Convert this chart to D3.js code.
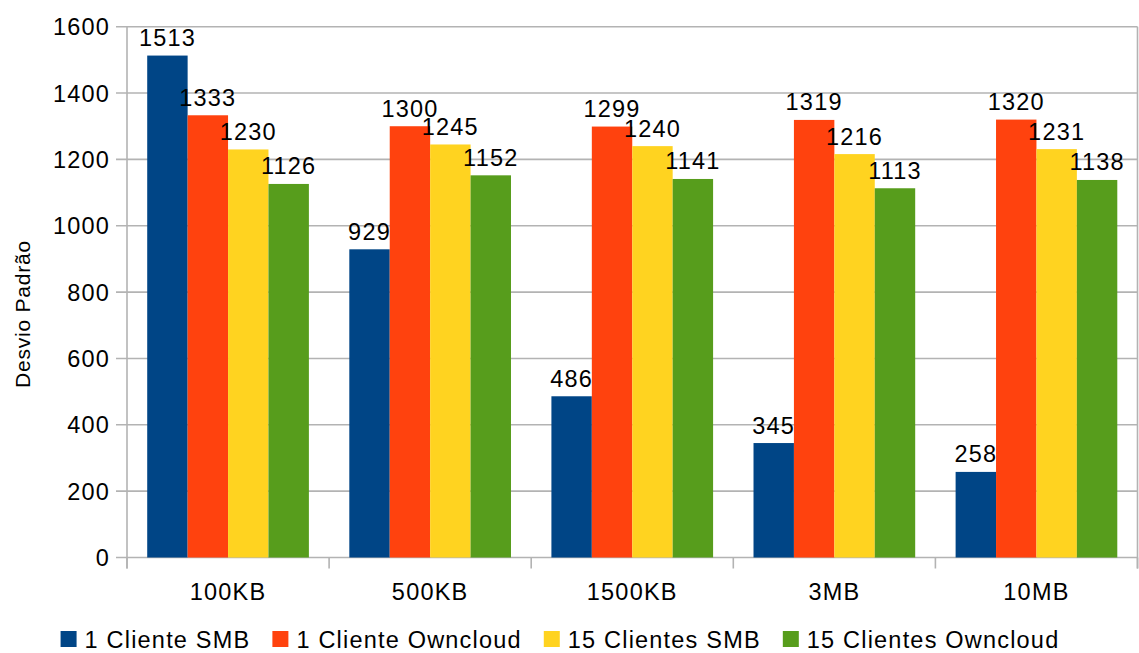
<!DOCTYPE html>
<html>
<head>
<meta charset="utf-8">
<script src="https://cdn.jsdelivr.net/npm/d3@7"></script>
<style>
  html, body { margin: 0; padding: 0; background: #fff; }
  svg { display: block; font-family: "Liberation Sans", Arial, sans-serif; }
</style>
</head>
<body>
<svg id="chart" width="1139" height="653"></svg>
<script>
const categories = ["100KB", "500KB", "1500KB", "3MB", "10MB"];
const seriesNames = ["1 Cliente SMB", "1 Cliente Owncloud", "15 Clientes SMB", "15 Clientes Owncloud"];
const smb1 = [1513, 929, 486, 345, 258];
const owncloud1 = [1333, 1300, 1299, 1319, 1320];
const smb15 = [1230, 1245, 1240, 1216, 1231];
const owncloud15 = [1126, 1152, 1141, 1113, 1138];
const yTicks = [0, 200, 400, 600, 800, 1000, 1200, 1400, 1600];
const colors = ["#004586", "#ff420e", "#ffd320", "#579d1c"];
const yTitle = "Desvio Padrão";

const seriesValues = [smb1, owncloud1, smb15, owncloud15];

const svg = d3.select("#chart");
const pLeft = 127, pRight = 1137.5, pTop = 26.7, pBottom = 557.5;
const gridColor = "#b3b3b3";
const fontSize = 23.5;
const ls = "1.2px";

const y = d3.scaleLinear().domain([0, 1600]).range([pBottom, pTop]);
const x0 = d3.scaleBand().domain(categories).range([pLeft, pRight]).paddingInner(0.2).paddingOuter(0.1);
const x1 = d3.scaleBand().domain(d3.range(seriesNames.length)).range([0, x0.bandwidth()]);
const step = x0.step();

// gridlines
svg.append("g").selectAll("line").data(yTicks).join("line")
  .attr("x1", pLeft - 11).attr("x2", pRight)
  .attr("y1", d => y(d)).attr("y2", d => y(d))
  .attr("stroke", gridColor).attr("stroke-width", 1.6);

// y tick labels
svg.append("g").selectAll("text").data(yTicks).join("text")
  .attr("x", 110).attr("y", d => y(d) + 8.5)
  .attr("text-anchor", "end")
  .attr("font-size", fontSize).attr("letter-spacing", ls).attr("fill", "#000")
  .text(d => d);

// axis lines
svg.append("line").attr("x1", pLeft).attr("x2", pLeft).attr("y1", pTop).attr("y2", pBottom + 11)
  .attr("stroke", gridColor).attr("stroke-width", 1.6);
svg.append("line").attr("x1", pRight).attr("x2", pRight).attr("y1", pTop).attr("y2", pBottom + 11)
  .attr("stroke", gridColor).attr("stroke-width", 1.6);
const boundaries = d3.range(categories.length + 1).map(i => pLeft + i * step);
svg.append("g").selectAll("line").data(boundaries).join("line")
  .attr("x1", d => d).attr("x2", d => d).attr("y1", pBottom).attr("y2", pBottom + 11)
  .attr("stroke", gridColor).attr("stroke-width", 1.6);

// bars
const groups = svg.append("g").selectAll("g").data(categories).join("g")
  .attr("transform", c => `translate(${x0(c)},0)`);
groups.selectAll("rect").data((c, ci) => seriesValues.map((vals, si) => ({ si, v: vals[ci] })))
  .join("rect")
  .attr("x", d => x1(d.si)).attr("width", x1.bandwidth())
  .attr("y", d => y(d.v)).attr("height", d => y(0) - y(d.v))
  .attr("fill", d => colors[d.si]);

// data labels
groups.selectAll("text").data((c, ci) => seriesValues.map((vals, si) => ({ si, v: vals[ci] })))
  .join("text")
  .attr("x", d => x1(d.si) + x1.bandwidth() / 2)
  .attr("y", d => y(d.v) - 9.5)
  .attr("text-anchor", "middle")
  .attr("font-size", fontSize).attr("letter-spacing", ls).attr("fill", "#000")
  .text(d => d.v);

// category labels
svg.append("g").selectAll("text").data(categories).join("text")
  .attr("x", c => x0(c) + x0.bandwidth() / 2).attr("y", 600)
  .attr("text-anchor", "middle")
  .attr("font-size", fontSize).attr("letter-spacing", ls).attr("fill", "#000")
  .text(c => c);

// y axis title
svg.append("text")
  .attr("transform", "translate(30,314) rotate(-90)")
  .attr("text-anchor", "middle")
  .attr("font-size", 21).attr("letter-spacing", "0.8px").attr("fill", "#000")
  .text(yTitle);

// legend
const legend = svg.append("g");
let lx = 0;
seriesNames.forEach((name, i) => {
  const g = legend.append("g").attr("transform", `translate(${lx},0)`);
  g.append("rect").attr("x", 0).attr("y", 631).attr("width", 16).attr("height", 16).attr("fill", colors[i]);
  const t = g.append("text").attr("x", 24).attr("y", 647.5)
    .attr("font-size", fontSize).attr("letter-spacing", ls).attr("fill", "#000").text(name);
  const w = t.node().getComputedTextLength();
  lx += 24 + w + 22;
});
const totalW = lx - 22;
legend.attr("transform", `translate(${560 - totalW / 2},0)`);
</script>
</body>
</html>
